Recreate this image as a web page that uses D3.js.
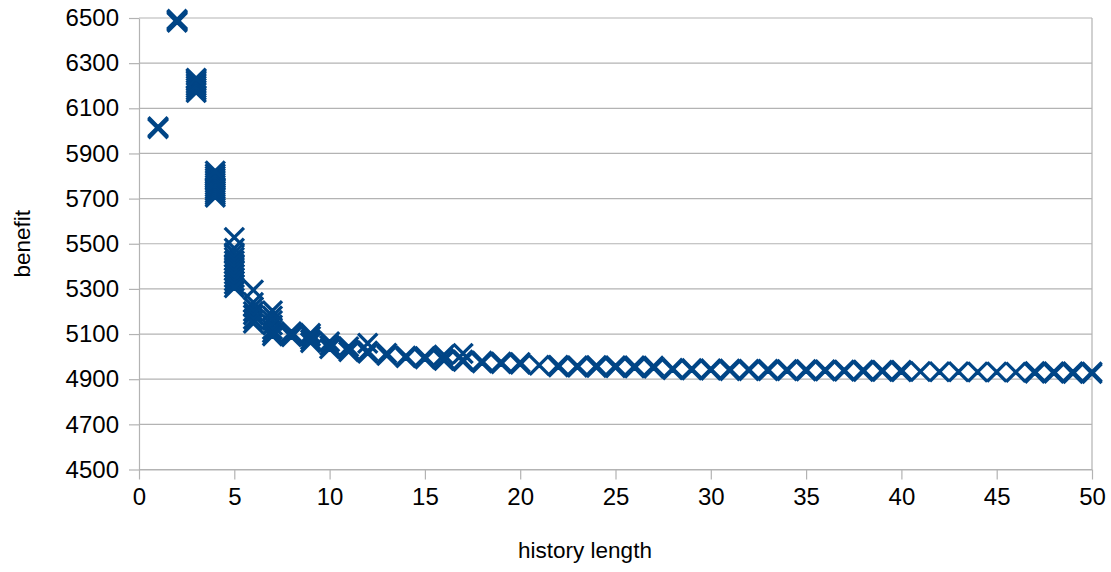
<!DOCTYPE html>
<html>
<head>
<meta charset="utf-8">
<script src="https://cdn.jsdelivr.net/npm/d3@7"></script>
<style>
  html, body { margin: 0; padding: 0; background: #ffffff; }
  svg { display: block; }
  text { font-family: "Liberation Sans", Arial, sans-serif; fill: #000; }
</style>
</head>
<body>
<svg id="chart" width="1111" height="572"></svg>
<script>
// History lengths tested (x) and the benefit measured for each run at that length (y).
const historyLengths = [
  1, 2, 3, 4, 5, 6, 7, 8, 9, 10,
  11, 12, 13, 14, 15, 16, 17, 18, 19, 20,
  21, 22, 23, 24, 25, 26, 27, 28, 29, 30,
  31, 32, 33, 34, 35, 36, 37, 38, 39, 40,
  41, 42, 43, 44, 45, 46, 47, 48, 49, 50
];
const benefitRuns = [
  [6010, 6014, 6018],
  [6481, 6486, 6490, 6494],
  [6170, 6180, 6190, 6200, 6210, 6220, 6228, 6233],
  [5706, 5715, 5724, 5733, 5742, 5751, 5760, 5770, 5780, 5790, 5800, 5810, 5822],
  [5528, 5480, 5460, 5440, 5425, 5410, 5395, 5380, 5365, 5350, 5335, 5320, 5305],
  [5295, 5240, 5220, 5200, 5185, 5165, 5148],
  [5203, 5180, 5160, 5140, 5120, 5105, 5092],
  [5110, 5098, 5088],
  [5103, 5090, 5075, 5062],
  [5066, 5050, 5035],
  [5044, 5032, 5022],
  [5059, 5025, 5015],
  [5015, 5005],
  [5003, 4995],
  [5000, 4990],
  [5007, 4990, 4983],
  [5014, 4985, 4978],
  [4980, 4972],
  [4976, 4968],
  [4974, 4966],
  [4962],
  [4962, 4954],
  [4960, 4953],
  [4961, 4952],
  [4960, 4951],
  [4959, 4950],
  [4958, 4949],
  [4948, 4942],
  [4947, 4941],
  [4946, 4940],
  [4945, 4938],
  [4944, 4938],
  [4944, 4937],
  [4943, 4937],
  [4943, 4936],
  [4942, 4936],
  [4941, 4935],
  [4941, 4934],
  [4940, 4934],
  [4940, 4933],
  [4934],
  [4933],
  [4933],
  [4932],
  [4932],
  [4931],
  [4934, 4927],
  [4933, 4926],
  [4933, 4925],
  [4932, 4925]
];
const xTicks = [0, 5, 10, 15, 20, 25, 30, 35, 40, 45, 50];
const yTicks = [4500, 4700, 4900, 5100, 5300, 5500, 5700, 5900, 6100, 6300, 6500];
const xTitle = "history length";
const yTitle = "benefit";

const seriesColor = "#004586";
const gridColor = "#b3b3b3";

const svg = d3.select("#chart");
const plot = { left: 139, right: 1092, top: 18, bottom: 469.5 };

const x = d3.scaleLinear().domain([0, 50]).range([plot.left, plot.right]);
const y = d3.scaleLinear().domain([4500, 6500]).range([plot.bottom, plot.top]);

// Horizontal gridlines
svg.append("g")
  .selectAll("line")
  .data(yTicks)
  .join("line")
  .attr("x1", plot.left).attr("x2", plot.right)
  .attr("y1", d => y(d)).attr("y2", d => y(d))
  .attr("stroke", gridColor).attr("stroke-width", 1.2);

// Plot frame on the right side
svg.append("line")
  .attr("x1", plot.right).attr("x2", plot.right)
  .attr("y1", plot.top).attr("y2", plot.bottom)
  .attr("stroke", gridColor).attr("stroke-width", 1.2);

// Axes
const xAxis = svg.append("g")
  .attr("transform", `translate(0,${plot.bottom})`)
  .call(d3.axisBottom(x).tickValues(xTicks).tickSizeInner(10).tickSizeOuter(0).tickPadding(8));
const yAxis = svg.append("g")
  .attr("transform", `translate(${plot.left},0)`)
  .call(d3.axisLeft(y).tickValues(yTicks).tickFormat(d3.format("d")).tickSizeInner(10).tickSizeOuter(0).tickPadding(10));

[xAxis, yAxis].forEach(g => {
  g.select(".domain").attr("stroke", gridColor).attr("stroke-width", 1.2);
  g.selectAll(".tick line").attr("stroke", gridColor).attr("stroke-width", 1.2);
  g.selectAll(".tick text")
    .attr("font-family", "Liberation Sans, Arial, sans-serif")
    .attr("font-size", 24)
    .attr("fill", "#000");
});

// Axis titles
svg.append("text")
  .attr("x", 585)
  .attr("y", 558)
  .attr("text-anchor", "middle")
  .attr("font-size", 22.5)
  .text(xTitle);
svg.append("text")
  .attr("transform", `translate(30,${(plot.top + plot.bottom) / 2}) rotate(-90)`)
  .attr("text-anchor", "middle")
  .attr("font-size", 22.5)
  .text(yTitle);

// X-shaped symbol, centred at the origin, half-size h
function crossPath(h) {
  const s = h * Math.SQRT2 * 10 / 128;
  const l = h - s;
  const pts = [
    [0, -s], [l, -h], [h, -l], [s, 0], [h, l], [l, h],
    [0, s], [-l, h], [-h, l], [-s, 0], [-h, -l], [-l, -h]
  ];
  return "M" + pts.map(p => p.join(",")).join("L") + "Z";
}

const points = historyLengths.flatMap((len, i) =>
  benefitRuns[i].map(b => ({ len, b })));

svg.append("g")
  .selectAll("path")
  .data(points)
  .join("path")
  .attr("d", crossPath(9.5))
  .attr("transform", d => `translate(${x(d.len)},${y(d.b)})`)
  .attr("fill", seriesColor)
  .attr("stroke", seriesColor)
  .attr("stroke-width", 1.8)
  .attr("stroke-linejoin", "miter");
</script>
</body>
</html>
